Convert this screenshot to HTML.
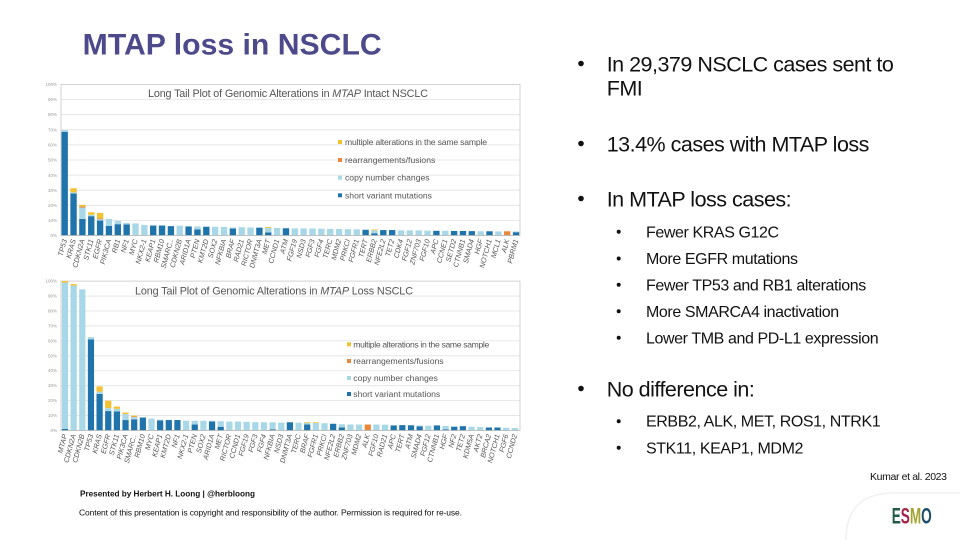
<!DOCTYPE html>
<html><head><meta charset="utf-8"><style>
html,body{margin:0;padding:0;background:#fff;}
svg{display:block;font-family:"Liberation Sans",Arial,sans-serif;}
.d{fill:#1f74ab}.l{fill:#a8d8e8}.o{fill:#e8883a}.y{fill:#f2c232}
.g{stroke:#e2e2e2;stroke-width:.8}
.tk{font-size:4.5px;fill:#999;text-anchor:end}
.lb{font-size:7.2px;fill:#555;text-anchor:end;font-style:italic}
.lg{font-size:8.6px;fill:#555}
.ct{font-size:10.8px;fill:#555}
.mb{font-size:21.5px;fill:#111;letter-spacing:-0.5px}
.sb{font-size:16px;fill:#111;letter-spacing:-0.4px}
</style></head><body>
<svg width="960" height="540" viewBox="0 0 960 540" xmlns="http://www.w3.org/2000/svg">
<rect width="960" height="540" fill="#fff"/>
<!-- Title -->
<text x="82.7" y="54.3" font-size="30" font-weight="bold" fill="#4d4a8b" textLength="299" lengthAdjust="spacingAndGlyphs">MTAP loss in NSCLC</text>

<!-- ===== TOP CHART ===== -->
<g>
<line class="g" x1="61" x2="520" y1="220.4" y2="220.4"/><line class="g" x1="61" x2="520" y1="205.3" y2="205.3"/><line class="g" x1="61" x2="520" y1="190.2" y2="190.2"/><line class="g" x1="61" x2="520" y1="175.1" y2="175.1"/><line class="g" x1="61" x2="520" y1="160" y2="160"/><line class="g" x1="61" x2="520" y1="144.9" y2="144.9"/><line class="g" x1="61" x2="520" y1="129.8" y2="129.8"/><line class="g" x1="61" x2="520" y1="114.7" y2="114.7"/><line class="g" x1="61" x2="520" y1="99.6" y2="99.6"/>
<rect x="61" y="84.5" width="459" height="151" fill="none" stroke="#c8c8c8" stroke-width=".8"/>
<text class="tk" x="57" y="237">0%</text><text class="tk" x="57" y="222">10%</text><text class="tk" x="57" y="207">20%</text><text class="tk" x="57" y="192">30%</text><text class="tk" x="57" y="177">40%</text><text class="tk" x="57" y="161.5">50%</text><text class="tk" x="57" y="146.5">60%</text><text class="tk" x="57" y="131.5">70%</text><text class="tk" x="57" y="116">80%</text><text class="tk" x="57" y="101">90%</text><text class="tk" x="57" y="86">100%</text>
<text class="ct" x="148" y="96.8" textLength="280">Long Tail Plot of Genomic Alterations in <tspan font-style="italic">MTAP</tspan> Intact NSCLC</text>
<g transform="translate(64.7 235.5) scale(8.85 -1.51)">
<rect class="d" x="-.36" y="0" width=".72" height="68.7"/><rect class="l" x="-.36" y="68.7" width=".72" height="1.1"/>
<rect class="d" x=".64" y="0" width=".72" height="27.8"/><rect class="l" x=".64" y="27.8" width=".72" height=".8"/><rect class="y" x=".64" y="28.6" width=".72" height="2.7"/>
<rect class="d" x="1.64" y="0" width=".72" height="11"/><rect class="l" x="1.64" y="11" width=".72" height="7.5"/><rect class="o" x="1.64" y="18.5" width=".72" height=".8"/><rect class="y" x="1.64" y="19.3" width=".72" height="1"/>
<rect class="d" x="2.64" y="0" width=".72" height="12.8"/><rect class="l" x="2.64" y="12.8" width=".72" height=".9"/><rect class="y" x="2.64" y="13.7" width=".72" height="1.7"/>
<rect class="d" x="3.64" y="0" width=".72" height="9.9"/><rect class="l" x="3.64" y="9.9" width=".72" height=".9"/><rect class="o" x="3.64" y="10.8" width=".72" height=".5"/><rect class="y" x="3.64" y="11.3" width=".72" height="3.7"/>
<rect class="d" x="4.64" y="0" width=".72" height="6.4"/><rect class="l" x="4.64" y="6.4" width=".72" height="4.6"/>
<rect class="d" x="5.64" y="0" width=".72" height="7.5"/><rect class="l" x="5.64" y="7.5" width=".72" height="2.2"/>
<rect class="d" x="6.64" y="0" width=".72" height="7.3"/><rect class="l" x="6.64" y="7.3" width=".72" height="1.1"/>
<rect class="l" x="7.64" y="0" width=".72" height="8"/>
<rect class="l" x="8.64" y="0" width=".72" height="7"/>
<rect class="d" x="9.64" y="0" width=".72" height="6.6"/>
<rect class="d" x="10.64" y="0" width=".72" height="6.6"/>
<rect class="d" x="11.64" y="0" width=".72" height="6.2"/>
<rect class="l" x="12.64" y="0" width=".72" height="6.5"/>
<rect class="d" x="13.64" y="0" width=".72" height="6"/>
<rect class="d" x="14.64" y="0" width=".72" height="4"/><rect class="l" x="14.64" y="4" width=".72" height="2"/>
<rect class="d" x="15.64" y="0" width=".72" height="5.8"/>
<rect class="l" x="16.64" y="0" width=".72" height="5.8"/>
<rect class="l" x="17.64" y="0" width=".72" height="5.7"/>
<rect class="d" x="18.64" y="0" width=".72" height="4.6"/><rect class="l" x="18.64" y="4.6" width=".72" height=".7"/>
<rect class="l" x="19.64" y="0" width=".72" height="5.5"/>
<rect class="l" x="20.64" y="0" width=".72" height="5.3"/>
<rect class="d" x="21.64" y="0" width=".72" height="5.2"/>
<rect class="d" x="22.64" y="0" width=".72" height="2"/><rect class="l" x="22.64" y="2" width=".72" height="3"/><rect class="y" x="22.64" y="5" width=".72" height=".6"/>
<rect class="l" x="23.64" y="0" width=".72" height="5"/>
<rect class="d" x="24.64" y="0" width=".72" height="4.8"/>
<rect class="l" x="25.64" y="0" width=".72" height="4.7"/>
<rect class="l" x="26.64" y="0" width=".72" height="4.7"/>
<rect class="l" x="27.64" y="0" width=".72" height="4.6"/>
<rect class="l" x="28.64" y="0" width=".72" height="4.5"/>
<rect class="l" x="29.64" y="0" width=".72" height="4.4"/>
<rect class="l" x="30.64" y="0" width=".72" height="4.3"/>
<rect class="l" x="31.64" y="0" width=".72" height="4.2"/>
<rect class="l" x="32.64" y="0" width=".72" height="4.1"/>
<rect class="d" x="33.64" y="0" width=".72" height="3.8"/>
<rect class="d" x="34.64" y="0" width=".72" height="1.5"/><rect class="l" x="34.64" y="1.5" width=".72" height="2"/><rect class="y" x="34.64" y="3.5" width=".72" height=".5"/>
<rect class="d" x="35.64" y="0" width=".72" height="3.6"/>
<rect class="d" x="36.64" y="0" width=".72" height="3.6"/>
<rect class="l" x="37.64" y="0" width=".72" height="3.4"/>
<rect class="l" x="38.64" y="0" width=".72" height="3.4"/>
<rect class="l" x="39.64" y="0" width=".72" height="3.4"/>
<rect class="l" x="40.64" y="0" width=".72" height="3.2"/>
<rect class="d" x="41.64" y="0" width=".72" height="3.1"/>
<rect class="l" x="42.64" y="0" width=".72" height="3.1"/>
<rect class="d" x="43.64" y="0" width=".72" height="3"/>
<rect class="d" x="44.64" y="0" width=".72" height="3"/>
<rect class="d" x="45.64" y="0" width=".72" height="2.9"/>
<rect class="l" x="46.64" y="0" width=".72" height="2.8"/>
<rect class="d" x="47.64" y="0" width=".72" height="2.8"/>
<rect class="l" x="48.64" y="0" width=".72" height="2.7"/>
<rect class="o" x="49.64" y="0" width=".72" height="2.8"/>
<rect class="d" x="50.64" y="0" width=".72" height="2.2"/><rect class="l" x="50.64" y="2.2" width=".72" height=".5"/>
</g>
<line x1="61" x2="520" y1="235.5" y2="235.5" stroke="#bbb" stroke-width=".8"/>
<!-- legend top -->
<rect class="y" x="338" y="140" width="4" height="4"/><text class="lg" x="345" y="145" textLength="142">multiple alterations in the same sample</text>
<rect class="o" x="338" y="158" width="4" height="4"/><text class="lg" x="345" y="163">rearrangements/fusions</text>
<rect class="l" x="338" y="175.7" width="4" height="4"/><text class="lg" x="345" y="180.7">copy number changes</text>
<rect class="d" x="338" y="193.3" width="4" height="4"/><text class="lg" x="345" y="198.3">short variant mutations</text>
<!-- labels top -->
<text class="lb" transform="translate(67 240) rotate(-75)">TP53</text>
<text class="lb" transform="translate(75.85 240) rotate(-75)">KRAS</text>
<text class="lb" transform="translate(84.7 240) rotate(-75)">CDKN2A</text>
<text class="lb" transform="translate(93.55 240) rotate(-75)">STK11</text>
<text class="lb" transform="translate(102.4 240) rotate(-75)">EGFR</text>
<text class="lb" transform="translate(111.25 240) rotate(-75)">PIK3CA</text>
<text class="lb" transform="translate(120.1 240) rotate(-75)">RB1</text>
<text class="lb" transform="translate(128.95 240) rotate(-75)">NF1</text>
<text class="lb" transform="translate(137.8 240) rotate(-75)">MYC</text>
<text class="lb" transform="translate(146.65 240) rotate(-75)">NKX2-1</text>
<text class="lb" transform="translate(155.5 240) rotate(-75)">KEAP1</text>
<text class="lb" transform="translate(164.35 240) rotate(-75)">RBM10</text>
<text class="lb" transform="translate(173.2 240) rotate(-75)">SMARC..</text>
<text class="lb" transform="translate(182.05 240) rotate(-75)">CDKN2B</text>
<text class="lb" transform="translate(190.9 240) rotate(-75)">ARID1A</text>
<text class="lb" transform="translate(199.75 240) rotate(-75)">PTEN</text>
<text class="lb" transform="translate(208.6 240) rotate(-75)">KMT2D</text>
<text class="lb" transform="translate(217.45 240) rotate(-75)">SOX2</text>
<text class="lb" transform="translate(226.3 240) rotate(-75)">NFKBIA</text>
<text class="lb" transform="translate(235.15 240) rotate(-75)">BRAF</text>
<text class="lb" transform="translate(244 240) rotate(-75)">RAD21</text>
<text class="lb" transform="translate(252.85 240) rotate(-75)">RICTOR</text>
<text class="lb" transform="translate(261.7 240) rotate(-75)">DNMT3A</text>
<text class="lb" transform="translate(270.55 240) rotate(-75)">MET</text>
<text class="lb" transform="translate(279.4 240) rotate(-75)">CCND1</text>
<text class="lb" transform="translate(288.25 240) rotate(-75)">ATM</text>
<text class="lb" transform="translate(297.1 240) rotate(-75)">FGF19</text>
<text class="lb" transform="translate(305.95 240) rotate(-75)">NSD3</text>
<text class="lb" transform="translate(314.8 240) rotate(-75)">FGF3</text>
<text class="lb" transform="translate(323.65 240) rotate(-75)">FGF4</text>
<text class="lb" transform="translate(332.5 240) rotate(-75)">TERC</text>
<text class="lb" transform="translate(341.35 240) rotate(-75)">MDM2</text>
<text class="lb" transform="translate(350.2 240) rotate(-75)">PRKCI</text>
<text class="lb" transform="translate(359.05 240) rotate(-75)">FGFR1</text>
<text class="lb" transform="translate(367.9 240) rotate(-75)">TERT</text>
<text class="lb" transform="translate(376.75 240) rotate(-75)">ERBB2</text>
<text class="lb" transform="translate(385.6 240) rotate(-75)">NFE2L2</text>
<text class="lb" transform="translate(394.45 240) rotate(-75)">TET2</text>
<text class="lb" transform="translate(403.3 240) rotate(-75)">CDK4</text>
<text class="lb" transform="translate(412.15 240) rotate(-75)">FGF12</text>
<text class="lb" transform="translate(421 240) rotate(-75)">ZNF703</text>
<text class="lb" transform="translate(429.85 240) rotate(-75)">FGF10</text>
<text class="lb" transform="translate(438.7 240) rotate(-75)">APC</text>
<text class="lb" transform="translate(447.55 240) rotate(-75)">CCNE1</text>
<text class="lb" transform="translate(456.4 240) rotate(-75)">SETD2</text>
<text class="lb" transform="translate(465.25 240) rotate(-75)">CTNNB1</text>
<text class="lb" transform="translate(474.1 240) rotate(-75)">SMAD4</text>
<text class="lb" transform="translate(482.95 240) rotate(-75)">HGF</text>
<text class="lb" transform="translate(491.8 240) rotate(-75)">NOTCH1</text>
<text class="lb" transform="translate(500.65 240) rotate(-75)">MCL1</text>
<text class="lb" transform="translate(509.5 240) rotate(-75)">ALK</text>
<text class="lb" transform="translate(518.35 240) rotate(-75)">PBRM1</text>
</g>

<!-- ===== BOTTOM CHART ===== -->
<g>
<line class="g" x1="61" x2="520" y1="415.56" y2="415.56"/><line class="g" x1="61" x2="520" y1="400.62" y2="400.62"/><line class="g" x1="61" x2="520" y1="385.68" y2="385.68"/><line class="g" x1="61" x2="520" y1="370.74" y2="370.74"/><line class="g" x1="61" x2="520" y1="355.8" y2="355.8"/><line class="g" x1="61" x2="520" y1="340.86" y2="340.86"/><line class="g" x1="61" x2="520" y1="325.92" y2="325.92"/><line class="g" x1="61" x2="520" y1="310.98" y2="310.98"/><line class="g" x1="61" x2="520" y1="296.04" y2="296.04"/>
<rect x="61" y="281.1" width="459" height="149.4" fill="none" stroke="#c8c8c8" stroke-width=".8"/>
<text class="tk" x="57" y="432">0%</text><text class="tk" x="57" y="417">10%</text><text class="tk" x="57" y="402">20%</text><text class="tk" x="57" y="387">30%</text><text class="tk" x="57" y="372">40%</text><text class="tk" x="57" y="357.3">50%</text><text class="tk" x="57" y="342.3">60%</text><text class="tk" x="57" y="327.4">70%</text><text class="tk" x="57" y="312.5">80%</text><text class="tk" x="57" y="297.5">90%</text><text class="tk" x="57" y="282.6">100%</text>
<text class="ct" x="135" y="294.4" textLength="278">Long Tail Plot of Genomic Alterations in <tspan font-style="italic">MTAP</tspan> Loss NSCLC</text>
<g transform="translate(65 430.5) scale(8.65 -1.494)">
<rect class="d" x="-.36" y="0" width=".72" height="1"/><rect class="l" x="-.36" y="1" width=".72" height="98"/><rect class="y" x="-.36" y="99" width=".72" height="1"/>
<rect class="l" x=".64" y="0" width=".72" height="97"/><rect class="y" x=".64" y="97" width=".72" height="1"/>
<rect class="l" x="1.64" y="0" width=".72" height="94.5"/>
<rect class="d" x="2.64" y="0" width=".72" height="61"/><rect class="l" x="2.64" y="61" width=".72" height="1.5"/>
<rect class="d" x="3.64" y="0" width=".72" height="24.5"/><rect class="l" x="3.64" y="24.5" width=".72" height="1.5"/><rect class="y" x="3.64" y="26" width=".72" height="3.5"/>
<rect class="d" x="4.64" y="0" width=".72" height="13"/><rect class="l" x="4.64" y="13" width=".72" height="2"/><rect class="y" x="4.64" y="15" width=".72" height="5"/>
<rect class="d" x="5.64" y="0" width=".72" height="12.7"/><rect class="l" x="5.64" y="12.7" width=".72" height="1.8"/><rect class="y" x="5.64" y="14.5" width=".72" height="1.5"/>
<rect class="d" x="6.64" y="0" width=".72" height="7"/><rect class="l" x="6.64" y="7" width=".72" height="4"/><rect class="y" x="6.64" y="11" width=".72" height="1"/>
<rect class="d" x="7.64" y="0" width=".72" height="7.5"/><rect class="l" x="7.64" y="7.5" width=".72" height="1.5"/><rect class="o" x="7.64" y="9" width=".72" height=".5"/><rect class="y" x="7.64" y="9.5" width=".72" height=".5"/>
<rect class="d" x="8.64" y="0" width=".72" height="8.7"/>
<rect class="l" x="9.64" y="0" width=".72" height="8"/>
<rect class="d" x="10.64" y="0" width=".72" height="6.8"/><rect class="l" x="10.64" y="6.8" width=".72" height=".4"/>
<rect class="d" x="11.64" y="0" width=".72" height="7"/>
<rect class="d" x="12.64" y="0" width=".72" height="7"/>
<rect class="l" x="13.64" y="0" width=".72" height="6.5"/>
<rect class="d" x="14.64" y="0" width=".72" height="4"/><rect class="l" x="14.64" y="4" width=".72" height="2.5"/>
<rect class="l" x="15.64" y="0" width=".72" height="6.5"/>
<rect class="d" x="16.64" y="0" width=".72" height="6"/><rect class="l" x="16.64" y="6" width=".72" height=".5"/>
<rect class="d" x="17.64" y="0" width=".72" height="2.5"/><rect class="l" x="17.64" y="2.5" width=".72" height="3.7"/>
<rect class="l" x="18.64" y="0" width=".72" height="6"/>
<rect class="l" x="19.64" y="0" width=".72" height="6"/>
<rect class="l" x="20.64" y="0" width=".72" height="5.8"/>
<rect class="l" x="21.64" y="0" width=".72" height="5.6"/>
<rect class="l" x="22.64" y="0" width=".72" height="5.5"/>
<rect class="d" x="23.64" y="0" width=".72" height=".8"/><rect class="l" x="23.64" y=".8" width=".72" height="4.7"/>
<rect class="l" x="24.64" y="0" width=".72" height="5.3"/>
<rect class="d" x="25.64" y="0" width=".72" height="5.5"/>
<rect class="l" x="26.64" y="0" width=".72" height="5.2"/>
<rect class="d" x="27.64" y="0" width=".72" height="4"/><rect class="l" x="27.64" y="4" width=".72" height="1.2"/><rect class="y" x="27.64" y="5.2" width=".72" height=".5"/>
<rect class="l" x="28.64" y="0" width=".72" height="5"/><rect class="y" x="28.64" y="5" width=".72" height=".5"/>
<rect class="l" x="29.64" y="0" width=".72" height="4.9"/>
<rect class="d" x="30.64" y="0" width=".72" height="4.5"/>
<rect class="d" x="31.64" y="0" width=".72" height="2"/><rect class="l" x="31.64" y="2" width=".72" height="2.2"/>
<rect class="l" x="32.64" y="0" width=".72" height="4"/>
<rect class="l" x="33.64" y="0" width=".72" height="4"/>
<rect class="o" x="34.64" y="0" width=".72" height="4"/>
<rect class="l" x="35.64" y="0" width=".72" height="4"/>
<rect class="l" x="36.64" y="0" width=".72" height="3.9"/>
<rect class="d" x="37.64" y="0" width=".72" height="3.3"/><rect class="l" x="37.64" y="3.3" width=".72" height=".4"/>
<rect class="d" x="38.64" y="0" width=".72" height="3.6"/>
<rect class="d" x="39.64" y="0" width=".72" height="3.5"/>
<rect class="d" x="40.64" y="0" width=".72" height="2.8"/><rect class="l" x="40.64" y="2.8" width=".72" height=".6"/>
<rect class="l" x="41.64" y="0" width=".72" height="3.2"/>
<rect class="d" x="42.64" y="0" width=".72" height="3.4"/>
<rect class="d" x="43.64" y="0" width=".72" height=".7"/><rect class="l" x="43.64" y=".7" width=".72" height="2.3"/>
<rect class="d" x="44.64" y="0" width=".72" height="2.5"/><rect class="l" x="44.64" y="2.5" width=".72" height=".4"/>
<rect class="d" x="45.64" y="0" width=".72" height="2.9"/>
<rect class="l" x="46.64" y="0" width=".72" height="2.5"/>
<rect class="l" x="47.64" y="0" width=".72" height="2.3"/>
<rect class="d" x="48.64" y="0" width=".72" height="2"/>
<rect class="d" x="49.64" y="0" width=".72" height="2"/>
<rect class="l" x="50.64" y="0" width=".72" height="1.8"/>
<rect class="l" x="51.64" y="0" width=".72" height="1.7"/>
</g>
<line x1="61" x2="520" y1="430.5" y2="430.5" stroke="#bbb" stroke-width=".8"/>
<!-- legend bottom -->
<rect class="y" x="347" y="342.3" width="4" height="4"/><text class="lg" x="353.3" y="347.3" textLength="136">multiple alterations in the same sample</text>
<rect class="o" x="347" y="359" width="4" height="4"/><text class="lg" x="353.3" y="364">rearrangements/fusions</text>
<rect class="l" x="347" y="376" width="4" height="4"/><text class="lg" x="353.3" y="381">copy number changes</text>
<rect class="d" x="347" y="392" width="4" height="4"/><text class="lg" x="353.3" y="397">short variant mutations</text>
<!-- labels bottom -->
<text class="lb" transform="translate(67.3 435) rotate(-75)">MTAP</text>
<text class="lb" transform="translate(75.95 435) rotate(-75)">CDKN2A</text>
<text class="lb" transform="translate(84.6 435) rotate(-75)">CDKN2B</text>
<text class="lb" transform="translate(93.25 435) rotate(-75)">TP53</text>
<text class="lb" transform="translate(101.9 435) rotate(-75)">KRAS</text>
<text class="lb" transform="translate(110.55 435) rotate(-75)">EGFR</text>
<text class="lb" transform="translate(119.2 435) rotate(-75)">STK11</text>
<text class="lb" transform="translate(127.85 435) rotate(-75)">PIK3CA</text>
<text class="lb" transform="translate(136.5 435) rotate(-75)">SMARC..</text>
<text class="lb" transform="translate(145.15 435) rotate(-75)">RBM10</text>
<text class="lb" transform="translate(153.8 435) rotate(-75)">MYC</text>
<text class="lb" transform="translate(162.45 435) rotate(-75)">KEAP1</text>
<text class="lb" transform="translate(171.1 435) rotate(-75)">KMT2D</text>
<text class="lb" transform="translate(179.75 435) rotate(-75)">NF1</text>
<text class="lb" transform="translate(188.4 435) rotate(-75)">NKX2-1</text>
<text class="lb" transform="translate(197.05 435) rotate(-75)">PTEN</text>
<text class="lb" transform="translate(205.7 435) rotate(-75)">SOX2</text>
<text class="lb" transform="translate(214.35 435) rotate(-75)">ARID1A</text>
<text class="lb" transform="translate(223 435) rotate(-75)">MET</text>
<text class="lb" transform="translate(231.65 435) rotate(-75)">RICTOR</text>
<text class="lb" transform="translate(240.3 435) rotate(-75)">CCND1</text>
<text class="lb" transform="translate(248.95 435) rotate(-75)">FGF19</text>
<text class="lb" transform="translate(257.6 435) rotate(-75)">FGF3</text>
<text class="lb" transform="translate(266.25 435) rotate(-75)">FGF4</text>
<text class="lb" transform="translate(274.9 435) rotate(-75)">NFKBIA</text>
<text class="lb" transform="translate(283.55 435) rotate(-75)">NSD3</text>
<text class="lb" transform="translate(292.2 435) rotate(-75)">DNMT3A</text>
<text class="lb" transform="translate(300.85 435) rotate(-75)">TERC</text>
<text class="lb" transform="translate(309.5 435) rotate(-75)">BRAF</text>
<text class="lb" transform="translate(318.15 435) rotate(-75)">FGFR1</text>
<text class="lb" transform="translate(326.8 435) rotate(-75)">PRKCI</text>
<text class="lb" transform="translate(335.45 435) rotate(-75)">NFE2L2</text>
<text class="lb" transform="translate(344.1 435) rotate(-75)">ERBB2</text>
<text class="lb" transform="translate(352.75 435) rotate(-75)">ZNF703</text>
<text class="lb" transform="translate(361.4 435) rotate(-75)">MDM2</text>
<text class="lb" transform="translate(370.05 435) rotate(-75)">ALK</text>
<text class="lb" transform="translate(378.7 435) rotate(-75)">FGF10</text>
<text class="lb" transform="translate(387.35 435) rotate(-75)">RAD21</text>
<text class="lb" transform="translate(396 435) rotate(-75)">APC</text>
<text class="lb" transform="translate(404.65 435) rotate(-75)">TERT</text>
<text class="lb" transform="translate(413.3 435) rotate(-75)">ATM</text>
<text class="lb" transform="translate(421.95 435) rotate(-75)">SMAD4</text>
<text class="lb" transform="translate(430.6 435) rotate(-75)">FGF12</text>
<text class="lb" transform="translate(439.25 435) rotate(-75)">CTNNB1</text>
<text class="lb" transform="translate(447.9 435) rotate(-75)">HGF</text>
<text class="lb" transform="translate(456.55 435) rotate(-75)">NF2</text>
<text class="lb" transform="translate(465.2 435) rotate(-75)">TET2</text>
<text class="lb" transform="translate(473.85 435) rotate(-75)">KDM5A</text>
<text class="lb" transform="translate(482.5 435) rotate(-75)">AKT2</text>
<text class="lb" transform="translate(491.15 435) rotate(-75)">BRCA2</text>
<text class="lb" transform="translate(499.8 435) rotate(-75)">NOTCH1</text>
<text class="lb" transform="translate(508.45 435) rotate(-75)">FGF6</text>
<text class="lb" transform="translate(517.1 435) rotate(-75)">CCND2</text>
</g>

<!-- ===== RIGHT BULLETS ===== -->
<circle cx="581" cy="63.5" r="2.8" fill="#111"/>
<text class="mb" x="606.7" y="71.5">In 29,379 NSCLC cases sent to</text>
<text class="mb" x="606.7" y="95.5">FMI</text>
<circle cx="581" cy="143.5" r="2.8" fill="#111"/>
<text class="mb" x="606.7" y="151.5">13.4% cases with MTAP loss</text>
<circle cx="581" cy="198.5" r="2.8" fill="#111"/>
<text class="mb" x="606.7" y="206.5">In MTAP loss cases:</text>

<circle cx="618.7" cy="231.8" r="2" fill="#111"/><text class="sb" x="646" y="237.3">Fewer KRAS G12C</text>
<circle cx="618.7" cy="258.5" r="2" fill="#111"/><text class="sb" x="646" y="264">More EGFR mutations</text>
<circle cx="618.7" cy="284.8" r="2" fill="#111"/><text class="sb" x="646" y="290.3">Fewer TP53 and RB1 alterations</text>
<circle cx="618.7" cy="311.3" r="2" fill="#111"/><text class="sb" x="646" y="316.8">More SMARCA4 inactivation</text>
<circle cx="618.7" cy="337.8" r="2" fill="#111"/><text class="sb" x="646" y="343.3">Lower TMB and PD-L1 expression</text>

<circle cx="581" cy="388.5" r="2.8" fill="#111"/>
<text class="mb" x="606.7" y="396.5">No difference in:</text>
<circle cx="618.7" cy="421.2" r="2" fill="#111"/><text class="sb" x="646" y="426.7">ERBB2, ALK, MET, ROS1, NTRK1</text>
<circle cx="618.7" cy="447.8" r="2" fill="#111"/><text class="sb" x="646" y="453.3">STK11, KEAP1, MDM2</text>

<text x="870" y="480" font-size="10.5" fill="#111" textLength="77">Kumar et al. 2023</text>

<!-- faint frame -->
<path d="M846 540 Q846 494 892 493 L960 493" fill="none" stroke="#f1f1f1" stroke-width="1.5"/>

<!-- ESMO logo -->
<text x="891.7" y="523.3" font-size="22" font-weight="bold" textLength="40" lengthAdjust="spacingAndGlyphs"><tspan fill="#235a47">E</tspan><tspan fill="#a3224a">S</tspan><tspan fill="#a6a331">M</tspan><tspan fill="#1f4f6e">O</tspan></text>

<!-- footer -->
<text x="80" y="496.5" font-size="8.2" font-weight="bold" fill="#111" textLength="175">Presented by Herbert H. Loong | @herbloong</text>
<text x="79" y="515.5" font-size="8.5" fill="#111" textLength="383">Content of this presentation is copyright and responsibility of the author. Permission is required for re-use.</text>
</svg>
</body></html>
